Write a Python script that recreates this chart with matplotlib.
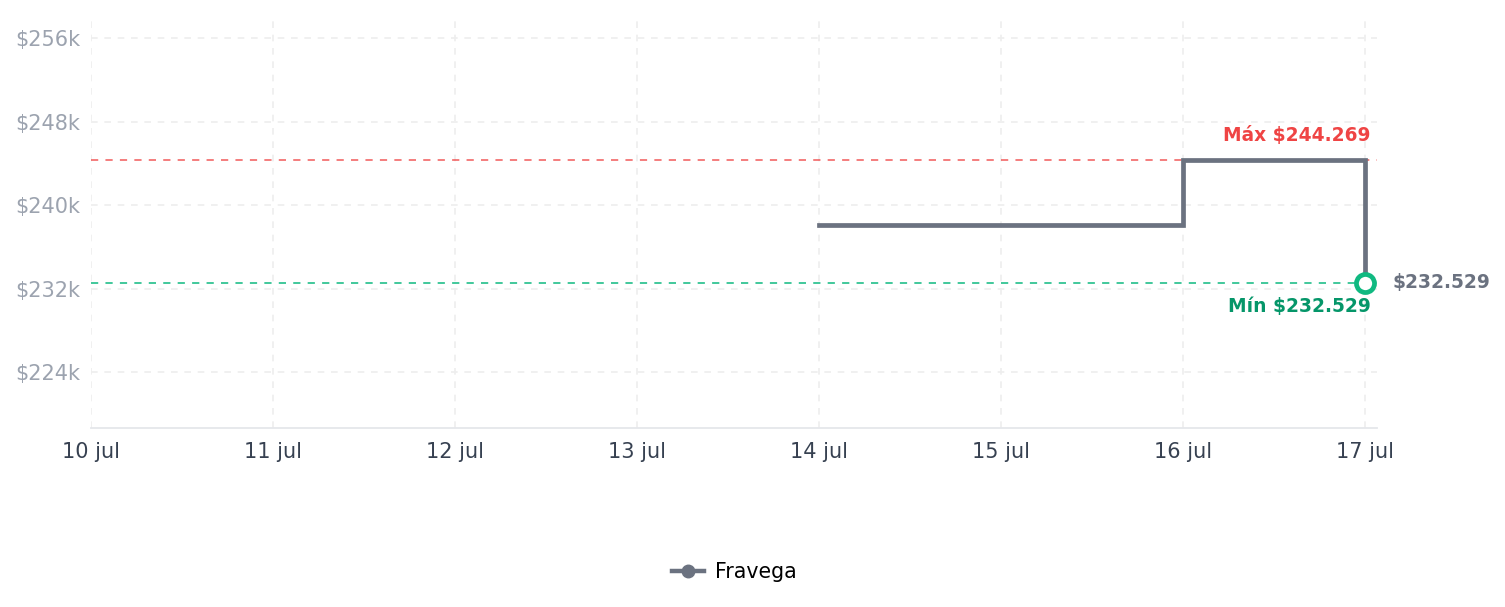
import matplotlib
matplotlib.use("Agg")
import matplotlib.pyplot as plt
from matplotlib.lines import Line2D
import datetime as dt

# ---- data ----
dates = [dt.datetime(2024, 7, 14), dt.datetime(2024, 7, 16), dt.datetime(2024, 7, 17)]
prices = [238050, 244269, 232529]
series_name = "Fravega"
tick_dates = [dt.datetime(2024, 7, d) for d in range(10, 18)]
tick_labels = ["10 jul", "11 jul", "12 jul", "13 jul", "14 jul", "15 jul", "16 jul", "17 jul"]
ytick_values = [224000, 232000, 240000, 248000, 256000]
ytick_labels = ["$224k", "$232k", "$240k", "$248k", "$256k"]
max_price = 244269
min_price = 232529
max_label = "Máx $244.269"
min_label = "Mín $232.529"
last_label = "$232.529"

GRAY = "#6b7280"
RED = "#ef4444"
GREEN = "#10b981"
DKGREEN = "#059669"

fig = plt.figure(figsize=(15.05, 6.07), dpi=100)
ax = fig.add_axes([91/1505, 1-428/607, (1377-91)/1505, (428-15)/607])

ax.step(dates, prices, where="post", color=GRAY, lw=3.4, solid_joinstyle="miter", zorder=3)
ax.plot([dates[-1]], [prices[-1]], marker="o", ms=13, mfc="white", mec=GREEN, mew=3.4,
        ls="none", zorder=4)

ax.axhline(max_price, color=RED, lw=1.3, ls=(0, (4, 4)), alpha=0.75, zorder=2)
ax.axhline(min_price, color=GREEN, lw=1.3, ls=(0, (4, 4)), alpha=0.85, zorder=2)

ax.set_xlim(tick_dates[0], tick_dates[-1] + dt.timedelta(days=12/182))
ax.set_ylim(218635, 258204)

ax.set_xticks(tick_dates)
ax.set_xticklabels(tick_labels)
ax.set_yticks(ytick_values)
ax.set_yticklabels(ytick_labels)
ax.tick_params(axis="x", length=0, pad=10, labelsize=15, labelcolor="#374151")
ax.tick_params(axis="y", length=0, pad=8, labelsize=15, labelcolor="#9ca3af")

ax.grid(True, color="#eeeeee", lw=1.2, ls=(0, (4, 4)), zorder=0)
for s in ["top", "right", "left"]:
    ax.spines[s].set_visible(False)
ax.spines["bottom"].set_color("#e5e7eb")
ax.spines["bottom"].set_linewidth(1.3)

off = dt.timedelta(days=6/182)
ax.annotate(max_label, (dates[-1] + off, max_price), xytext=(0, 25), textcoords="offset pixels",
            ha="right", va="center", color=RED, fontsize=13.4, fontweight="bold")
ax.annotate(min_label, (dates[-1] + off, min_price), xytext=(0, -24), textcoords="offset pixels",
            ha="right", va="center", color=DKGREEN, fontsize=13.4, fontweight="bold")
ax.annotate(last_label, (dates[-1], prices[-1]), xytext=(28, 0), textcoords="offset pixels",
            ha="left", va="center", color=GRAY, fontsize=13.4, fontweight="bold",
            annotation_clip=False)

handle = Line2D([], [], color=GRAY, lw=3.2, marker="o", ms=9, mfc=GRAY, mec=GRAY)
ax.legend([handle], [series_name], loc="center", bbox_to_anchor=(0.5, (428-572)/413),
          frameon=False, fontsize=14.8, handlelength=1.6, handletextpad=0.5)

fig.savefig("out.png", dpi=100)
